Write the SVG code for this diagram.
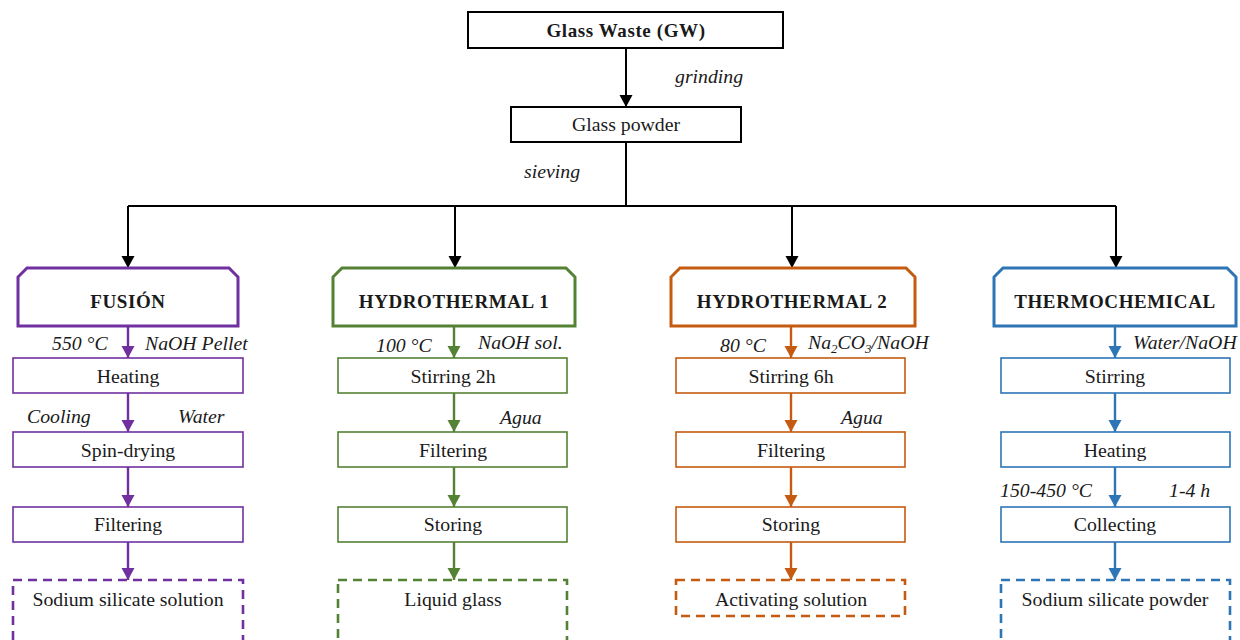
<svg xmlns="http://www.w3.org/2000/svg" width="1240" height="640" viewBox="0 0 1240 640" font-family="Liberation Serif, serif">
<style>
text{font-family:"Liberation Serif","Times New Roman",serif;fill:#1a1a1a;text-anchor:middle}
.t{font-size:19.8px}
.b{font-size:19px;font-weight:bold;letter-spacing:0.6px}
.l{font-size:19.8px;font-style:italic}
.s{text-anchor:start}
.box{fill:#fff;stroke-width:1.6}
.hdr{fill:#fff;stroke-width:3}
.dash{fill:none;stroke-width:2.6;stroke-dasharray:9 6}
.k{stroke:#000;stroke-width:2;fill:none}
.pu{stroke:#7030A0}.gr{stroke:#548235}.or{stroke:#C55A11}.bl{stroke:#2E75B6}
.c{stroke-width:2.4;fill:none}
</style>
<defs>
<marker id="aK" markerUnits="userSpaceOnUse" markerWidth="14" markerHeight="14" refX="12" refY="7" orient="auto"><path d="M0,0.5 L12,7 L0,13.5 z" fill="#000"/></marker>
<marker id="aP" markerUnits="userSpaceOnUse" markerWidth="14" markerHeight="14" refX="12" refY="7" orient="auto"><path d="M0,0.5 L12,7 L0,13.5 z" fill="#7030A0"/></marker>
<marker id="aG" markerUnits="userSpaceOnUse" markerWidth="14" markerHeight="14" refX="12" refY="7" orient="auto"><path d="M0,0.5 L12,7 L0,13.5 z" fill="#548235"/></marker>
<marker id="aO" markerUnits="userSpaceOnUse" markerWidth="14" markerHeight="14" refX="12" refY="7" orient="auto"><path d="M0,0.5 L12,7 L0,13.5 z" fill="#C55A11"/></marker>
<marker id="aB" markerUnits="userSpaceOnUse" markerWidth="14" markerHeight="14" refX="12" refY="7" orient="auto"><path d="M0,0.5 L12,7 L0,13.5 z" fill="#2E75B6"/></marker>
</defs>

<g id="connectors">
<path class="k" d="M626,48 V107" marker-end="url(#aK)"/>
<path class="k" d="M626,142 V206 M128,206 H1116"/>
<path class="k" d="M128,206 V268" marker-end="url(#aK)"/>
<path class="k" d="M455,206 V268" marker-end="url(#aK)"/>
<path class="k" d="M792,206 V268" marker-end="url(#aK)"/>
<path class="k" d="M1116,206 V268" marker-end="url(#aK)"/>
<g class="c pu">
<path d="M128,326 V358" marker-end="url(#aP)"/>
<path d="M128,393 V432" marker-end="url(#aP)"/>
<path d="M128,467 V507" marker-end="url(#aP)"/>
<path d="M128,542 V580" marker-end="url(#aP)"/>
</g>
<g class="c gr">
<path d="M454,326 V358" marker-end="url(#aG)"/>
<path d="M454,393 V432" marker-end="url(#aG)"/>
<path d="M454,467 V507" marker-end="url(#aG)"/>
<path d="M454,542 V580" marker-end="url(#aG)"/>
</g>
<g class="c or">
<path d="M791,326 V358" marker-end="url(#aO)"/>
<path d="M791,393 V432" marker-end="url(#aO)"/>
<path d="M791,467 V507" marker-end="url(#aO)"/>
<path d="M791,542 V580" marker-end="url(#aO)"/>
</g>
<g class="c bl">
<path d="M1115,326 V358" marker-end="url(#aB)"/>
<path d="M1115,393 V432" marker-end="url(#aB)"/>
<path d="M1115,467 V507" marker-end="url(#aB)"/>
<path d="M1115,542 V580" marker-end="url(#aB)"/>
</g>
</g>

<g id="labels">
<text class="l s" x="675" y="83">grinding</text>
<text class="l s" x="524" y="178">sieving</text>
<text class="l s" x="52" y="350">550 °C</text>
<text class="l s" x="145" y="350">NaOH Pellet</text>
<text class="l s" x="27" y="423">Cooling</text>
<text class="l s" x="178" y="423">Water</text>
<text class="l s" x="376" y="352">100 °C</text>
<text class="l s" x="478" y="349">NaOH sol.</text>
<text class="l s" x="500" y="424">Agua</text>
<text class="l s" x="720" y="352">80 °C</text>
<text class="l s" x="808" y="349">Na<tspan font-size="13" dy="4">2</tspan><tspan dy="-4">CO</tspan><tspan font-size="13" dy="4">3</tspan><tspan dy="-4">/NaOH</tspan></text>
<text class="l s" x="841" y="424">Agua</text>
<text class="l s" x="1133" y="349">Water/NaOH</text>
<text class="l s" x="1000" y="497">150-450 °C</text>
<text class="l s" x="1169" y="497">1-4 h</text>
</g>

<g id="n-gw"><rect x="468" y="12" width="315" height="36" fill="#fff" stroke="#000" stroke-width="2"/><text class="b" x="626" y="37">Glass Waste (GW)</text></g>
<g id="n-gp"><rect x="511" y="107" width="230" height="35" fill="#fff" stroke="#000" stroke-width="2"/><text class="t" x="626" y="131">Glass powder</text></g>

<g id="fusion">
<g id="n-f0"><path class="hdr pu" d="M18,326 V277 L27,268 H229 L238,277 V326 Z"/><text class="b" x="128" y="308">FUSIÓN</text></g>
<g id="n-f1"><rect class="box pu" x="13" y="358" width="230" height="35"/><text class="t" x="128" y="383">Heating</text></g>
<g id="n-f2"><rect class="box pu" x="13" y="432" width="230" height="35"/><text class="t" x="128" y="457">Spin-drying</text></g>
<g id="n-f3"><rect class="box pu" x="13" y="507" width="230" height="35"/><text class="t" x="128" y="531">Filtering</text></g>
<g id="n-f4"><rect class="dash pu" x="13" y="580" width="230" height="70"/><text class="t" x="128" y="606">Sodium silicate solution</text></g>
</g>

<g id="hydro1">
<g id="n-h0"><path class="hdr gr" d="M333,326 V277 L342,268 H566 L575,277 V326 Z"/><text class="b" x="454" y="308">HYDROTHERMAL 1</text></g>
<g id="n-h1"><rect class="box gr" x="338" y="358" width="229" height="35"/><text class="t" x="453" y="383">Stirring 2h</text></g>
<g id="n-h2"><rect class="box gr" x="338" y="432" width="229" height="35"/><text class="t" x="453" y="457">Filtering</text></g>
<g id="n-h3"><rect class="box gr" x="338" y="507" width="229" height="35"/><text class="t" x="453" y="531">Storing</text></g>
<g id="n-h4"><rect class="dash gr" x="338" y="580" width="229" height="70"/><text class="t" x="453" y="606">Liquid glass</text></g>
</g>

<g id="hydro2">
<g id="n-o0"><path class="hdr or" d="M671,326 V277 L680,268 H906 L915,277 V326 Z"/><text class="b" x="792" y="308">HYDROTHERMAL 2</text></g>
<g id="n-o1"><rect class="box or" x="676" y="358" width="229" height="35"/><text class="t" x="791" y="383">Stirring 6h</text></g>
<g id="n-o2"><rect class="box or" x="676" y="432" width="229" height="35"/><text class="t" x="791" y="457">Filtering</text></g>
<g id="n-o3"><rect class="box or" x="676" y="507" width="229" height="35"/><text class="t" x="791" y="531">Storing</text></g>
<g id="n-o4"><rect class="dash or" x="676" y="580" width="229" height="36"/><text class="t" x="791" y="606">Activating solution</text></g>
</g>

<g id="thermo">
<g id="n-t0"><path class="hdr bl" d="M994,326 V277 L1003,268 H1227 L1236,277 V326 Z"/><text class="b" x="1115" y="308">THERMOCHEMICAL</text></g>
<g id="n-t1"><rect class="box bl" x="1001" y="358" width="229" height="35"/><text class="t" x="1115" y="383">Stirring</text></g>
<g id="n-t2"><rect class="box bl" x="1001" y="432" width="229" height="35"/><text class="t" x="1115" y="457">Heating</text></g>
<g id="n-t3"><rect class="box bl" x="1001" y="507" width="229" height="35"/><text class="t" x="1115" y="531">Collecting</text></g>
<g id="n-t4"><rect class="dash bl" x="1001" y="580" width="229" height="70"/><text class="t" x="1115" y="606">Sodium silicate powder</text></g>
</g>
</svg>
